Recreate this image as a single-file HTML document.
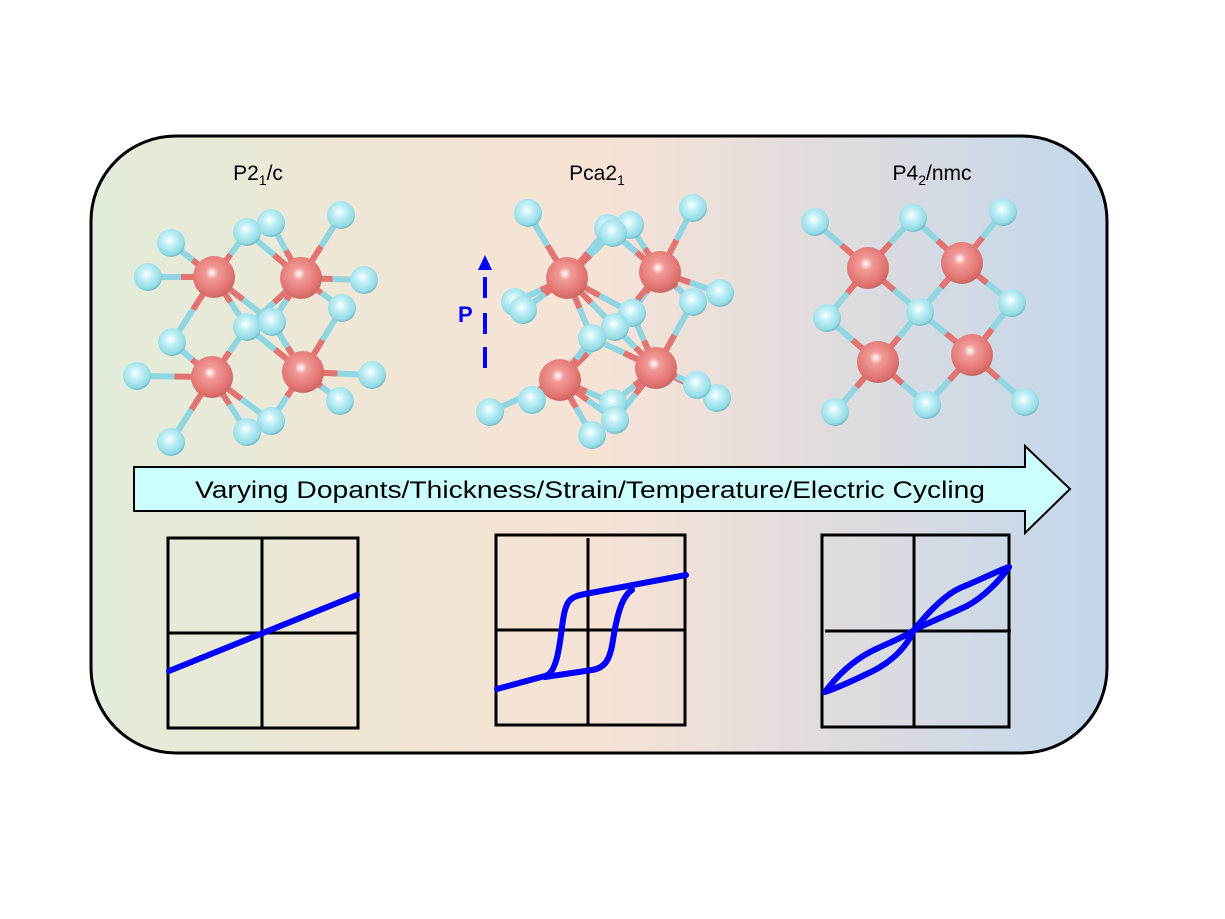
<!DOCTYPE html>
<html><head><meta charset="utf-8"><style>
html,body{margin:0;padding:0;background:#fff;width:1225px;height:919px;overflow:hidden}
</style></head><body>
<svg id="s" width="1225" height="919" viewBox="0 0 1225 919" xmlns="http://www.w3.org/2000/svg" font-family="Liberation Sans, DejaVu Sans, sans-serif">
<defs>
<linearGradient id="bg" x1="0" x2="1" y1="0" y2="0">
<stop offset="0" stop-color="#e2ecda"/>
<stop offset="0.25" stop-color="#efe6d6"/>
<stop offset="0.5" stop-color="#f6e3d6"/>
<stop offset="0.72" stop-color="#e1dcdd"/>
<stop offset="1" stop-color="#c2d7ec"/>
</linearGradient>
<radialGradient id="rg" cx="0.45" cy="0.4" r="0.6">
<stop offset="0" stop-color="#ffffff"/>
<stop offset="0.25" stop-color="#f19a98"/>
<stop offset="0.8" stop-color="#e27370"/>
<stop offset="1" stop-color="#c86663"/>
</radialGradient>
<radialGradient id="bgr" cx="0.45" cy="0.4" r="0.6">
<stop offset="0" stop-color="#ffffff"/>
<stop offset="0.3" stop-color="#c8f2f8"/>
<stop offset="0.85" stop-color="#92dbe6"/>
<stop offset="1" stop-color="#6fb8c4"/>
</radialGradient>
</defs>
<rect x="91" y="136" width="1016" height="617" rx="85" ry="85" fill="url(#bg)" stroke="#000" stroke-width="3"/>
<text x="258" y="180" font-size="21" text-anchor="middle">P2<tspan font-size="14" dy="5">1</tspan><tspan dy="-5">/c</tspan></text>
<text x="597" y="180" font-size="21" text-anchor="middle">Pca2<tspan font-size="14" dy="5">1</tspan></text>
<text x="932" y="180" font-size="21" text-anchor="middle">P4<tspan font-size="14" dy="5">2</tspan><tspan dy="-5">/nmc</tspan></text>
<g id="mol"></g>
<!-- P arrow -->
<polygon points="485,255 478,270 492,270" fill="#0000ff"/>
<rect x="483" y="277" width="4" height="21" fill="#0000ff"/>
<rect x="483" y="313" width="4" height="21" fill="#0000ff"/>
<rect x="483" y="347" width="4" height="21" fill="#0000ff"/>
<text x="458" y="322" font-size="22" font-weight="bold" fill="#0000ff">P</text>
<!-- big arrow -->
<polygon points="134,467 1025,467 1025,446 1070,489 1025,533 1025,511 134,511" fill="#ccffff" stroke="#000" stroke-width="2"/>
<text x="195" y="498" font-size="24" textLength="790" lengthAdjust="spacingAndGlyphs">Varying Dopants/Thickness/Strain/Temperature/Electric Cycling</text>
<!-- plots -->
<g fill="none" stroke="#000" stroke-width="3">
<rect x="168" y="538" width="190" height="190"/>
<line x1="262" y1="538" x2="262" y2="728"/><line x1="168" y1="633" x2="358" y2="633"/>
<rect x="496" y="535" width="189" height="190"/>
<line x1="588" y1="538" x2="588" y2="725"/><line x1="496" y1="630" x2="685" y2="630"/>
<rect x="822" y="535" width="187" height="192"/>
<line x1="914" y1="535" x2="914" y2="727"/><line x1="825" y1="631" x2="1011" y2="631"/>
</g>
<g fill="none" stroke="#0000ff" stroke-width="6" stroke-linecap="round" stroke-linejoin="round">
<line x1="169" y1="671" x2="357" y2="595"/>
<path d="M497,689 L545,676 C558,673 560,640 563,620 C566,600 570,597 585,594 L686,575"/>
<path d="M545,677 L592,670 C605,668 610,660 613,640 C617,615 622,596 632,590"/>
<path d="M825,692 C840,672 855,660 870,652 C890,642 905,637 914,630 C930,610 945,595 960,588 C980,580 995,572 1009,567"/>
<path d="M825,692 C845,685 860,677 873,671 C890,662 905,650 914,630 C930,622 950,614 967,606 C985,596 1000,580 1009,567"/>
</g>
</svg>
<script>
var S=[
{r:[[214,277],[301,278],[212,377],[303,372]],b:[[171,243],[148,277],[247,232],[271,223],[341,215],[364,280],[342,308],[247,327],[272,322],[172,342],[137,376],[372,375],[340,401],[271,421],[247,432],[171,442]]},
{r:[[567,278],[660,272],[560,380],[656,368]],b:[[528,213],[693,208],[630,225],[608,228],[613,233],[720,293],[693,302],[515,302],[523,310],[632,313],[615,327],[592,338],[490,412],[532,400],[717,398],[697,385],[613,403],[615,420],[592,435]]},
{r:[[868,268],[962,263],[878,362],[972,355]],b:[[815,222],[913,218],[1003,212],[827,318],[920,312],[1012,303],[835,412],[927,405],[1025,402]]}
];
var ns="http://www.w3.org/2000/svg",g=document.getElementById("mol"),h="";
S.forEach(function(s){
 s.b.forEach(function(b){s.r.forEach(function(r){
  var d=Math.hypot(b[0]-r[0],b[1]-r[1]);
  if(d<78){var mx=(b[0]+r[0])/2,my=(b[1]+r[1])/2;
   h+='<line x1="'+b[0]+'" y1="'+b[1]+'" x2="'+mx+'" y2="'+my+'" stroke="#8fd6e2" stroke-width="6"/>';
   h+='<line x1="'+mx+'" y1="'+my+'" x2="'+r[0]+'" y2="'+r[1]+'" stroke="#e27370" stroke-width="6"/>';}
 });});
 var all=[];
 s.r.forEach(function(r){all.push([r[0],r[1],21,'rg'])});
 s.b.forEach(function(b){all.push([b[0],b[1],14,'bgr'])});
 all.forEach(function(a){h+='<circle cx="'+a[0]+'" cy="'+a[1]+'" r="'+a[2]+'" fill="url(#'+a[3]+')"/>';});
});
g.innerHTML=h;
</script>
</body></html>
